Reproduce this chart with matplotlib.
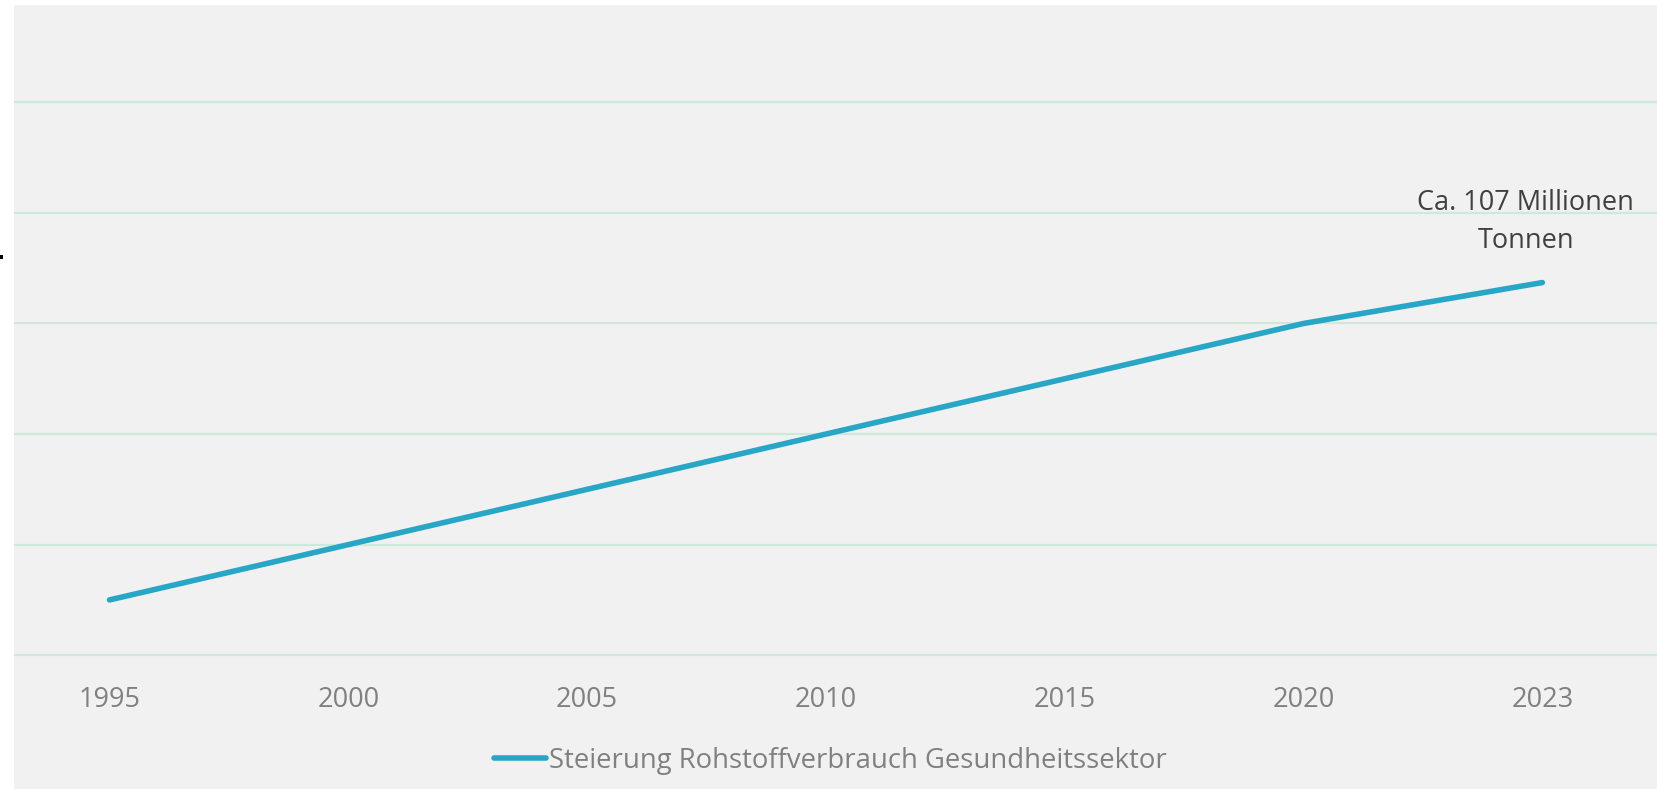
import matplotlib.pyplot as plt
from matplotlib.patches import Rectangle

years = ['1995', '2000', '2005', '2010', '2015', '2020', '2023']
values = [0.5, 1.0, 1.5, 2.0, 2.5, 3.0, 3.37]
series_name = 'Steierung Rohstoffverbrauch Gesundheitssektor'
note = 'Ca. 107 Millionen\nTonnen'

line_color = '#27a6c6'
grid_color = '#cde9dc'
panel_color = '#f1f1f1'

plt.rcParams['font.family'] = ['Open Sans', 'DejaVu Sans']

W, H = 1657, 789
fig = plt.figure(figsize=(W / 100, H / 100), dpi=100)
fig.patch.set_facecolor('white')

# grey chart panel (starts a little in from the left/top edge)
fig.patches.append(Rectangle((14 / W, 0), 1 - 14 / W, 1 - 5 / H,
                             transform=fig.transFigure, facecolor=panel_color,
                             edgecolor='none', zorder=-2))
# small black mark at the left border
fig.patches.append(Rectangle((0, (H - 259) / H), 3 / W, 4 / H,
                             transform=fig.transFigure, facecolor='black',
                             edgecolor='none', zorder=-1))

ax = fig.add_axes([14 / W, (H - 671.8) / H, 1 - 14 / W, (671.8 - 5) / H])
ax.set_facecolor('none')
ax.set_zorder(2)

x = list(range(len(years)))
ax.plot(x, values, color=line_color, lw=4, solid_capstyle='round',
        label=series_name, zorder=3)

ax.set_xlim(-0.40, 6.48)
ax.set_ylim(-0.15, 5.88)
ax.set_yticks(range(0, 6))
ax.set_yticklabels([])
ax.yaxis.grid(True, color=grid_color, lw=1.6)
ax.set_axisbelow(True)
ax.set_xticks(x)
ax.set_xticklabels(years, fontsize=19.5, color='#808080')
ax.tick_params(axis='both', length=0)
ax.tick_params(axis='x', pad=10.5)
for s in ax.spines.values():
    s.set_visible(False)

ax.annotate(note, xy=(x[-1], values[-1]), xytext=(-12, 20),
            textcoords='offset points', ha='center', va='bottom',
            fontsize=19.5, color='#404040', linespacing=1.45)

leg = fig.legend(loc='center', bbox_to_anchor=(0.501, 28 / H), frameon=False,
                 fontsize=19.8, handlelength=1.9, handletextpad=0.1)
leg.set_zorder(3)
for t in leg.get_texts():
    t.set_color('#808080')

fig.savefig('out.png', dpi=100, facecolor=fig.get_facecolor())
